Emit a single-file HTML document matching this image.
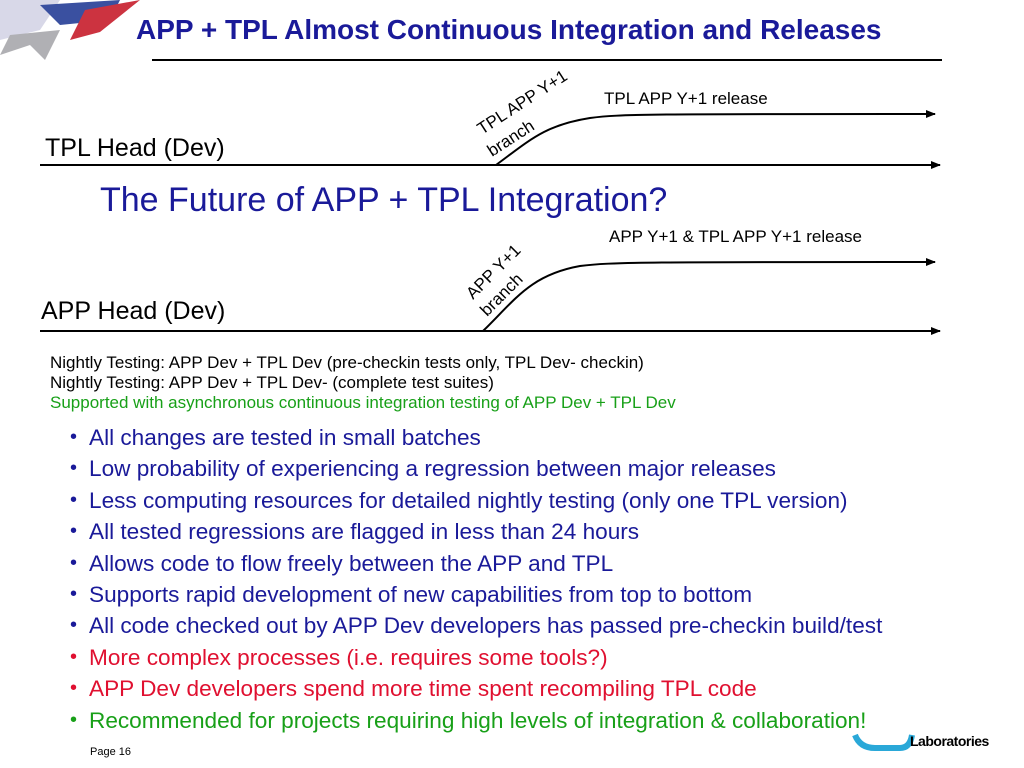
<!DOCTYPE html>
<html><head><meta charset="utf-8"><style>
body{margin:0;width:1024px;height:768px;background:#fff;overflow:hidden;font-family:"Liberation Sans",Arial,sans-serif;position:relative}
.a{position:absolute;white-space:nowrap}
ul{position:absolute;left:66px;top:422px;margin:0;padding:0;list-style:none}
li{font-size:22.6px;height:31.4px;line-height:31.4px;color:#1a1a99;padding-left:23px;position:relative}
li:before{content:"•";position:absolute;left:4px;font-size:20px}
.r{color:#e01030}.g{color:#18a018}
</style></head><body>
<svg width="1024" height="768" style="position:absolute;left:0;top:0">
<defs><marker id="ar" markerWidth="10" markerHeight="8" refX="9" refY="4" orient="auto" markerUnits="userSpaceOnUse"><path d="M0,0L10,4L0,8z" fill="#000"/></marker></defs>
<path d="M0,0 L60,0 L40,30 L0,40z" fill="#d8d8e8"/>
<path d="M40,5 L120,0 L110,20 L60,25z" fill="#3a50a0"/>
<path d="M85,10 L140,0 L100,32 L70,40z" fill="#cc3340"/>
<path d="M10,35 L60,30 L45,60 L30,45 L0,55z" fill="#b0b0b4"/>
<line x1="152" y1="60" x2="942" y2="60" stroke="#000" stroke-width="2"/>
<line x1="40" y1="165" x2="940" y2="165" stroke="#000" stroke-width="2" marker-end="url(#ar)"/>
<path d="M496,165 C530,140 545,125 590,118 C620,114 650,114 935,114" fill="none" stroke="#000" stroke-width="2" marker-end="url(#ar)"/>
<line x1="40" y1="331" x2="940" y2="331" stroke="#000" stroke-width="2" marker-end="url(#ar)"/>
<path d="M483,331 C515,300 530,275 580,266 C610,262 650,262 935,262" fill="none" stroke="#000" stroke-width="2" marker-end="url(#ar)"/>
<text x="0" y="0" font-size="17" transform="translate(482,135) rotate(-33)" font-family="Liberation Sans, Arial, sans-serif">TPL APP Y+1</text>
<text x="0" y="0" font-size="17" transform="translate(492,157) rotate(-33)" font-family="Liberation Sans, Arial, sans-serif">branch</text>
<text x="0" y="0" font-size="17" transform="translate(473,300) rotate(-45)" font-family="Liberation Sans, Arial, sans-serif">APP Y+1</text>
<text x="0" y="0" font-size="17" transform="translate(487,317) rotate(-45)" font-family="Liberation Sans, Arial, sans-serif">branch</text>
<path d="M855,735 Q860,748 875,748 L900,748 Q910,748 912,735" fill="none" stroke="#2aa8d8" stroke-width="6"/>
</svg>
<div class="a" style="left:136px;top:14px;font-size:28px;font-weight:bold;color:#1a1a99">APP + TPL Almost Continuous Integration and Releases</div>
<div class="a" style="left:604px;top:89px;font-size:17px">TPL APP Y+1 release</div>
<div class="a" style="left:45px;top:134px;font-size:25px">TPL Head (Dev)</div>
<div class="a" style="left:100px;top:181px;font-size:34px;color:#1a1a99">The Future of APP + TPL Integration?</div>
<div class="a" style="left:609px;top:227px;font-size:17px">APP Y+1 &amp; TPL APP Y+1 release</div>
<div class="a" style="left:41px;top:297px;font-size:25px">APP Head (Dev)</div>
<div class="a" style="left:50px;top:353px;font-size:17px;line-height:20px">Nightly Testing: APP Dev + TPL Dev (pre-checkin tests only, TPL Dev- checkin)<br>Nightly Testing: APP Dev + TPL Dev- (complete test suites)<br><span style="color:#18a018">Supported with asynchronous continuous integration testing of APP Dev + TPL Dev</span></div>
<ul>
<li>All changes are tested in small batches</li>
<li>Low probability of experiencing a regression between major releases</li>
<li>Less computing resources for detailed nightly testing (only one TPL version)</li>
<li>All tested regressions are flagged in less than 24 hours</li>
<li>Allows code to flow freely between the APP and TPL</li>
<li>Supports rapid development of new capabilities from top to bottom</li>
<li>All code checked out by APP Dev developers has passed pre-checkin build/test</li>
<li class="r">More complex processes (i.e. requires some tools?)</li>
<li class="r">APP Dev developers spend more time spent recompiling TPL code</li>
<li class="g">Recommended for projects requiring high levels of integration &amp; collaboration!</li>
</ul>
<div class="a" style="left:90px;top:746px;font-size:11px">Page 16</div>
<div class="a" style="left:910px;top:733px;font-size:14px;font-weight:bold;letter-spacing:-0.5px">Laboratories</div>
</body></html>
